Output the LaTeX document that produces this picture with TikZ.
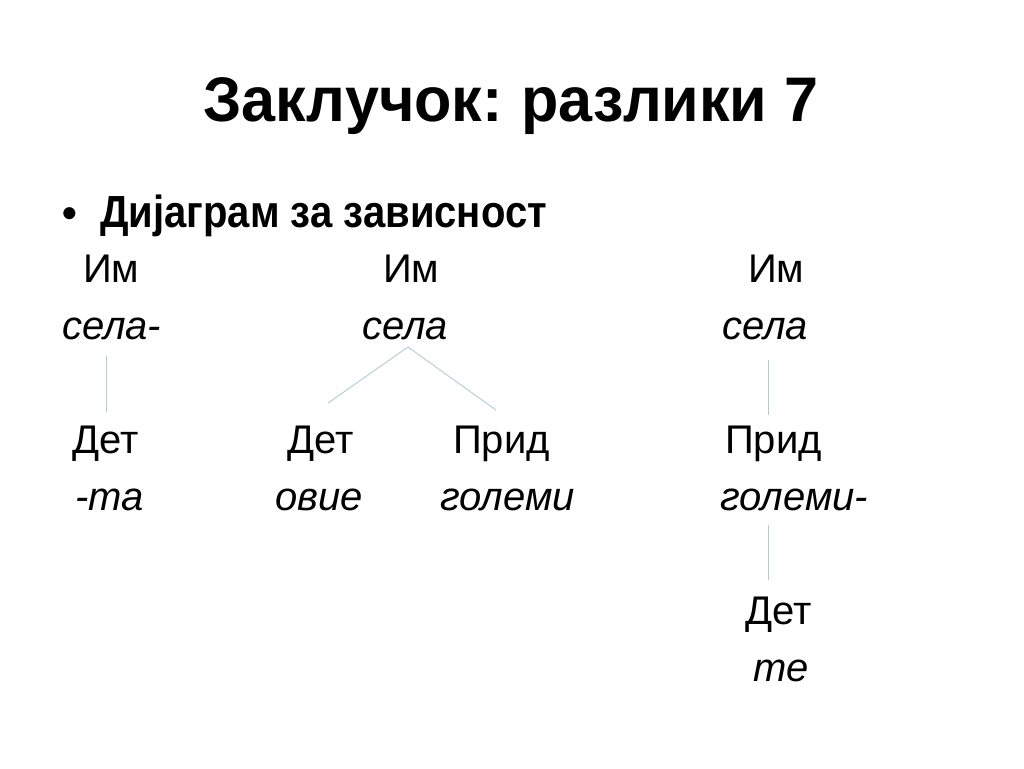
\documentclass[tikz,border=0pt]{standalone}
\usepackage{fontspec}
\setmainfont{Liberation Sans}
\newfontfamily\titlefont[FakeStretch=0.97]{Liberation Sans}
\newfontfamily\itemfont[FakeStretch=0.89]{Liberation Sans}
\usetikzlibrary{positioning}
\definecolor{lineblue}{RGB}{175, 205, 215}
\tikzset{word/.style = {anchor=base west, inner sep=0pt,
                        font=\fontsize{40}{40}\selectfont},
         form/.style = {word, font=\fontsize{40}{40}\selectfont\itshape},
         dep/.style = {draw=lineblue, line width=0.9pt}}

\begin{document}
\begin{tikzpicture}[x=1pt, y=-1pt]
    \useasboundingbox (0, 0) rectangle (1024, 768);

    \node (title) [anchor=base, inner sep=0pt,
                   font=\titlefont\bfseries\fontsize{63}{63}\selectfont]
          at (511, 121) {Заклучок:\hspace{-4pt} разлики 7};
    \node (bullet) [anchor=base west, inner sep=0pt,
                    font=\bfseries\fontsize{42}{42}\selectfont]
          at (62, 227) {•};
    \node (item) [anchor=base west, inner sep=0pt,
                  font=\itemfont\bfseries\fontsize{45}{45}\selectfont]
          at (100, 227) {Дијаграм за зависност};

    % first tree
    \node (cat1) [word] at (83, 282) {Им};
    \node (w1) [form] at (62, 339) {села-};
    \node (cat2) [word] at (72, 453) {Дет};
    \node (w2) [form] at (75, 510) {-та};

    % second tree
    \node (cat3) [word] at (383, 282) {Им};
    \node (w3) [form] at (362, 339) {села};
    \node (cat4) [word] at (287, 453) {Дет};
    \node (w4) [form] at (275, 510) {овие};
    \node (cat5) [word] at (453, 453) {Прид};
    \node (w5) [form] at (440, 510) {големи};

    % third tree
    \node (cat6) [word] at (748, 282) {Им};
    \node (w6) [form] at (722, 339) {села};
    \node (cat7) [word] at (725, 453) {Прид};
    \node (w7) [form] at (720, 510) {големи-};
    \node (cat8) [word] at (745, 624) {Дет};
    \node (w8) [form] at (753, 681) {те};

    \coordinate (a1) at (106, 356);
    \coordinate (b1) at (106, 412);
    \coordinate (a2) at (408, 347);
    \coordinate (b2) at (328, 403);
    \coordinate (b3) at (496, 410);
    \coordinate (a3) at (768, 360);
    \coordinate (b4) at (768, 415);
    \coordinate (a4) at (768, 525);
    \coordinate (b5) at (768, 580);

    \draw [dep] (a1) -- (b1);
    \draw [dep] (b2) -- (a2) -- (b3);
    \draw [dep] (a3) -- (b4);
    \draw [dep] (a4) -- (b5);
\end{tikzpicture}
\end{document}
